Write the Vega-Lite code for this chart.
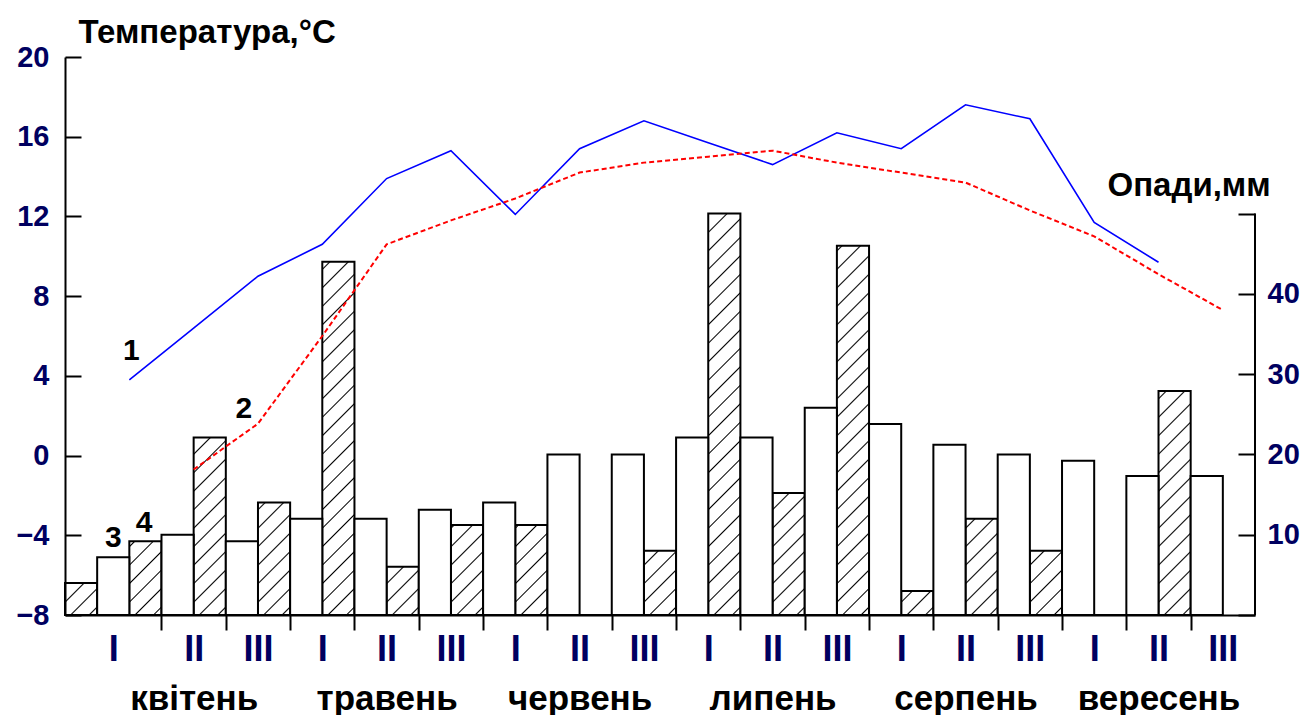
{
  "$schema": "https://vega.github.io/schema/vega-lite/v6.json",
  "width": 1190,
  "height": 558,
  "autosize": {"type": "none"},
  "padding": {"left": 65, "top": 57, "right": 50, "bottom": 100},
  "background": "white",
  "config": {"view": {"stroke": null}, "axis": {"grid": false}, "font": "Liberation Sans", "scale": {"continuousPadding": 0}},
  "data": {"values": [
    {"n": 0, "month": "березень", "dekad": "III", "p3": null, "p4": 4.0, "t1": null, "t2": null},
    {"n": 1, "month": "квітень", "dekad": "I", "p3": 7.2, "p4": 9.2, "t1": 3.8, "t2": null},
    {"n": 2, "month": "квітень", "dekad": "II", "p3": 10.0, "p4": 22.1, "t1": 6.4, "t2": -0.7},
    {"n": 3, "month": "квітень", "dekad": "III", "p3": 9.2, "p4": 14.0, "t1": 9.0, "t2": 1.6},
    {"n": 4, "month": "травень", "dekad": "I", "p3": 12.0, "p4": 44.0, "t1": 10.6, "t2": 6.0},
    {"n": 5, "month": "травень", "dekad": "II", "p3": 12.0, "p4": 6.0, "t1": 13.9, "t2": 10.6},
    {"n": 6, "month": "травень", "dekad": "III", "p3": 13.1, "p4": 11.2, "t1": 15.3, "t2": 11.8},
    {"n": 7, "month": "червень", "dekad": "I", "p3": 14.0, "p4": 11.2, "t1": 12.1, "t2": 12.9},
    {"n": 8, "month": "червень", "dekad": "II", "p3": 20.0, "p4": 0, "t1": 15.4, "t2": 14.2},
    {"n": 9, "month": "червень", "dekad": "III", "p3": 20.0, "p4": 8.0, "t1": 16.8, "t2": 14.7},
    {"n": 10, "month": "липень", "dekad": "I", "p3": 22.1, "p4": 50.0, "t1": 15.7, "t2": 15.0},
    {"n": 11, "month": "липень", "dekad": "II", "p3": 22.1, "p4": 15.2, "t1": 14.6, "t2": 15.3},
    {"n": 12, "month": "липень", "dekad": "III", "p3": 25.8, "p4": 46.0, "t1": 16.2, "t2": 14.7},
    {"n": 13, "month": "серпень", "dekad": "I", "p3": 23.8, "p4": 3.0, "t1": 15.4, "t2": 14.2},
    {"n": 14, "month": "серпень", "dekad": "II", "p3": 21.2, "p4": 12.0, "t1": 17.6, "t2": 13.7},
    {"n": 15, "month": "серпень", "dekad": "III", "p3": 20.0, "p4": 8.0, "t1": 16.9, "t2": 12.3},
    {"n": 16, "month": "вересень", "dekad": "I", "p3": 19.2, "p4": 0, "t1": 11.7, "t2": 11.0},
    {"n": 17, "month": "вересень", "dekad": "II", "p3": 17.3, "p4": 27.9, "t1": 9.7, "t2": 9.1},
    {"n": 18, "month": "вересень", "dekad": "III", "p3": 17.3, "p4": null, "t1": null, "t2": 7.3}
  ]},
  "resolve": {"scale": {"y": "independent"}, "axis": {"x": "independent", "y": "independent"}},
  "layer": [
    {
      "transform": [{"filter": "isValid(datum.p4)"}],
      "mark": {"type": "bar", "width": 32.16, "xOffset": 16.08, "strokeWidth": 0,
        "fill": {"gradient": "linear", "x1": 0, "y1": 0, "x2": 0.0611, "y2": 1.06, "stops": [
          {"offset": 0, "color": "white"},
          {"offset": 0.0127, "color": "white"}, {"offset": 0.0152, "color": "black"}, {"offset": 0.0177, "color": "white"},
          {"offset": 0.0438, "color": "white"}, {"offset": 0.0463, "color": "black"}, {"offset": 0.0488, "color": "white"},
          {"offset": 0.0750, "color": "white"}, {"offset": 0.0775, "color": "black"}, {"offset": 0.0800, "color": "white"},
          {"offset": 0.1061, "color": "white"}, {"offset": 0.1086, "color": "black"}, {"offset": 0.1111, "color": "white"},
          {"offset": 0.1373, "color": "white"}, {"offset": 0.1398, "color": "black"}, {"offset": 0.1423, "color": "white"},
          {"offset": 0.1684, "color": "white"}, {"offset": 0.1709, "color": "black"}, {"offset": 0.1734, "color": "white"},
          {"offset": 0.1996, "color": "white"}, {"offset": 0.2021, "color": "black"}, {"offset": 0.2046, "color": "white"},
          {"offset": 0.2307, "color": "white"}, {"offset": 0.2332, "color": "black"}, {"offset": 0.2357, "color": "white"},
          {"offset": 0.2619, "color": "white"}, {"offset": 0.2644, "color": "black"}, {"offset": 0.2669, "color": "white"},
          {"offset": 0.2931, "color": "white"}, {"offset": 0.2956, "color": "black"}, {"offset": 0.2981, "color": "white"},
          {"offset": 0.3242, "color": "white"}, {"offset": 0.3267, "color": "black"}, {"offset": 0.3292, "color": "white"},
          {"offset": 0.3554, "color": "white"}, {"offset": 0.3579, "color": "black"}, {"offset": 0.3604, "color": "white"},
          {"offset": 0.3865, "color": "white"}, {"offset": 0.3890, "color": "black"}, {"offset": 0.3915, "color": "white"},
          {"offset": 0.4177, "color": "white"}, {"offset": 0.4202, "color": "black"}, {"offset": 0.4227, "color": "white"},
          {"offset": 0.4488, "color": "white"}, {"offset": 0.4513, "color": "black"}, {"offset": 0.4538, "color": "white"},
          {"offset": 0.4800, "color": "white"}, {"offset": 0.4825, "color": "black"}, {"offset": 0.4850, "color": "white"},
          {"offset": 0.5112, "color": "white"}, {"offset": 0.5137, "color": "black"}, {"offset": 0.5162, "color": "white"},
          {"offset": 0.5423, "color": "white"}, {"offset": 0.5448, "color": "black"}, {"offset": 0.5473, "color": "white"},
          {"offset": 0.5735, "color": "white"}, {"offset": 0.5760, "color": "black"}, {"offset": 0.5785, "color": "white"},
          {"offset": 0.6046, "color": "white"}, {"offset": 0.6071, "color": "black"}, {"offset": 0.6096, "color": "white"},
          {"offset": 0.6358, "color": "white"}, {"offset": 0.6383, "color": "black"}, {"offset": 0.6408, "color": "white"},
          {"offset": 0.6669, "color": "white"}, {"offset": 0.6694, "color": "black"}, {"offset": 0.6719, "color": "white"},
          {"offset": 0.6981, "color": "white"}, {"offset": 0.7006, "color": "black"}, {"offset": 0.7031, "color": "white"},
          {"offset": 0.7292, "color": "white"}, {"offset": 0.7317, "color": "black"}, {"offset": 0.7342, "color": "white"},
          {"offset": 0.7604, "color": "white"}, {"offset": 0.7629, "color": "black"}, {"offset": 0.7654, "color": "white"},
          {"offset": 0.7916, "color": "white"}, {"offset": 0.7941, "color": "black"}, {"offset": 0.7966, "color": "white"},
          {"offset": 0.8227, "color": "white"}, {"offset": 0.8252, "color": "black"}, {"offset": 0.8277, "color": "white"},
          {"offset": 0.8539, "color": "white"}, {"offset": 0.8564, "color": "black"}, {"offset": 0.8589, "color": "white"},
          {"offset": 0.8850, "color": "white"}, {"offset": 0.8875, "color": "black"}, {"offset": 0.8900, "color": "white"},
          {"offset": 0.9162, "color": "white"}, {"offset": 0.9187, "color": "black"}, {"offset": 0.9212, "color": "white"},
          {"offset": 0.9473, "color": "white"}, {"offset": 0.9498, "color": "black"}, {"offset": 0.9523, "color": "white"},
          {"offset": 0.9785, "color": "white"}, {"offset": 0.9810, "color": "black"}, {"offset": 0.9835, "color": "white"},
          {"offset": 1, "color": "white"}
        ]}},
      "encoding": {
        "x": {"field": "n", "type": "quantitative", "scale": {"domain": [0, 18.5], "nice": false, "zero": false, "padding": 0},
          "axis": {"orient": "bottom", "values": [1.5, 2.5, 3.5, 4.5, 5.5, 6.5, 7.5, 8.5, 9.5, 10.5, 11.5, 12.5, 13.5, 14.5, 15.5, 16.5, 17.5],
            "labels": false, "ticks": true, "tickSize": 15, "tickWidth": 2, "tickColor": "black",
            "domain": true, "domainWidth": 2, "domainColor": "black", "title": null, "grid": false, "zindex": 1}},
        "y": {"datum": 0, "type": "quantitative", "scale": {"domain": [0, 69.5], "nice": false, "zero": false}, "axis": null},
        "y2": {"datum": 69.5}
      }
    },
    {
      "transform": [{"filter": "isValid(datum.p4)"}],
      "mark": {"type": "bar", "width": 34.5, "xOffset": 16.08, "fill": "white", "strokeWidth": 0},
      "encoding": {
        "x": {"field": "n", "type": "quantitative", "scale": {"domain": [0, 18.5], "nice": false, "zero": false, "padding": 0}, "axis": null},
        "y": {"field": "p4", "type": "quantitative", "scale": {"domain": [0, 69.5], "nice": false, "zero": false}, "axis": null},
        "y2": {"datum": 71}
      }
    },
    {
      "transform": [{"filter": "isValid(datum.p4)"}],
      "mark": {"type": "bar", "width": 32.16, "xOffset": 16.08, "fill": "white", "fillOpacity": 0, "stroke": "black", "strokeWidth": 2},
      "encoding": {
        "x": {"field": "n", "type": "quantitative", "scale": {"domain": [0, 18.5], "nice": false, "zero": false, "padding": 0}, "axis": null},
        "y": {"field": "p4", "type": "quantitative", "scale": {"domain": [0, 69.5], "nice": false, "zero": false}, "axis": null},
        "y2": {"datum": 0}
      }
    },
    {
      "mark": {"type": "bar", "width": 32.16, "xOffset": -16.08, "fill": "white", "stroke": "black", "strokeWidth": 2},
      "encoding": {
        "x": {"field": "n", "type": "quantitative", "scale": {"domain": [0, 18.5], "nice": false, "zero": false, "padding": 0}, "axis": null},
        "y": {"field": "p3", "type": "quantitative", "scale": {"domain": [0, 69.5], "nice": false, "zero": false},
          "axis": {"orient": "right", "values": [0, 10, 20, 30, 40, 50],
            "labelExpr": "datum.value > 0 && datum.value < 50 ? datum.label : ''",
            "tickSize": -17, "tickWidth": 2, "tickColor": "black", "domain": false,
            "labelPadding": 29, "labelFontSize": 29, "labelFontWeight": "bold", "labelColor": "#000060",
            "labelBaseline": "middle", "labelOverlap": false,
            "title": "Опади,мм", "titleAngle": 0, "titleAlign": "left", "titleBaseline": "alphabetic",
            "titleX": -148, "titleY": 138, "titleFontSize": 33, "titleFontWeight": "bold", "titleColor": "black",
            "grid": false, "zindex": 1}},
        "y2": {"datum": 0}
      }
    },
    {
      "data": {"values": [{}]},
      "mark": {"type": "rule", "stroke": "black", "strokeWidth": 2},
      "encoding": {
        "x": {"datum": 18.5, "type": "quantitative", "scale": {"domain": [0, 18.5], "nice": false, "zero": false, "padding": 0}, "axis": null},
        "y": {"datum": 0, "type": "quantitative", "scale": {"domain": [0, 69.5], "nice": false, "zero": false}, "axis": null},
        "y2": {"datum": 50}
      }
    },
    {
      "mark": {"type": "line", "stroke": "#0000ff", "strokeWidth": 1.6},
      "encoding": {
        "x": {"field": "n", "type": "quantitative", "scale": {"domain": [0, 18.5], "nice": false, "zero": false, "padding": 0},
          "axis": {"orient": "bottom", "values": [0.75, 2, 3, 4, 5, 6, 7, 8, 9, 10, 11, 12, 13, 14, 15, 16, 17, 18],
            "ticks": false, "domain": false, "labelExpr": "datum.value < 1.5 ? 'I' : ['III','I','II'][datum.value % 3]",
            "labelFont": "Liberation Sans Narrow, Liberation Sans", "labelFontSize": 36, "labelFontWeight": "bold",
            "labelColor": "#000060", "labelBaseline": "alphabetic", "labelPadding": 45,
            "labelOverlap": false, "labelFlush": false, "labelAlign": "center", "title": null, "grid": false}},
        "y": {"field": "t1", "type": "quantitative", "scale": {"domain": [-8, 20], "nice": false, "zero": false},
          "axis": {"orient": "left", "values": [-8, -4, 0, 4, 8, 12, 16, 20],
            "tickSize": -16, "tickWidth": 2, "tickColor": "black",
            "domain": true, "domainWidth": 2, "domainColor": "black",
            "labelPadding": 32, "labelFontSize": 29, "labelFontWeight": "bold", "labelColor": "#000060",
            "labelBaseline": "middle", "labelOverlap": false,
            "title": "Температура,°С", "titleAngle": 0, "titleAlign": "left", "titleBaseline": "alphabetic",
            "titleX": 13, "titleY": -15, "titleFontSize": 33, "titleFontWeight": "bold", "titleColor": "black",
            "grid": false, "zindex": 1}}
      }
    },
    {
      "mark": {"type": "line", "stroke": "#ff0000", "strokeWidth": 2, "strokeDash": [5, 3]},
      "encoding": {
        "x": {"field": "n", "type": "quantitative", "scale": {"domain": [0, 18.5], "nice": false, "zero": false, "padding": 0}, "axis": null},
        "y": {"field": "t2", "type": "quantitative", "scale": {"domain": [-8, 20], "nice": false, "zero": false}, "axis": null}
      }
    },
    {
      "data": {"values": [{"label": "1"}]},
      "mark": {"type": "text", "fontSize": 30, "fontWeight": "bold", "color": "black", "align": "center", "baseline": "alphabetic"},
      "encoding": {
        "x": {"datum": 1.03, "type": "quantitative", "scale": {"domain": [0, 18.5], "nice": false, "zero": false, "padding": 0}, "axis": null},
        "y": {"datum": 4.8, "type": "quantitative", "scale": {"domain": [-8, 20], "nice": false, "zero": false}, "axis": null},
        "text": {"field": "label"}
      }
    },
    {
      "data": {"values": [{"label": "2"}]},
      "mark": {"type": "text", "fontSize": 30, "fontWeight": "bold", "color": "black", "align": "center", "baseline": "alphabetic"},
      "encoding": {
        "x": {"datum": 2.78, "type": "quantitative", "scale": {"domain": [0, 18.5], "nice": false, "zero": false, "padding": 0}, "axis": null},
        "y": {"datum": 1.9, "type": "quantitative", "scale": {"domain": [-8, 20], "nice": false, "zero": false}, "axis": null},
        "text": {"field": "label"}
      }
    },
    {
      "data": {"values": [{"label": "3"}]},
      "mark": {"type": "text", "fontSize": 30, "fontWeight": "bold", "color": "black", "align": "center", "baseline": "alphabetic"},
      "encoding": {
        "x": {"datum": 0.75, "type": "quantitative", "scale": {"domain": [0, 18.5], "nice": false, "zero": false, "padding": 0}, "axis": null},
        "y": {"datum": -4.6, "type": "quantitative", "scale": {"domain": [-8, 20], "nice": false, "zero": false}, "axis": null},
        "text": {"field": "label"}
      }
    },
    {
      "data": {"values": [{"label": "4"}]},
      "mark": {"type": "text", "fontSize": 30, "fontWeight": "bold", "color": "black", "align": "center", "baseline": "alphabetic"},
      "encoding": {
        "x": {"datum": 1.23, "type": "quantitative", "scale": {"domain": [0, 18.5], "nice": false, "zero": false, "padding": 0}, "axis": null},
        "y": {"datum": -3.85, "type": "quantitative", "scale": {"domain": [-8, 20], "nice": false, "zero": false}, "axis": null},
        "text": {"field": "label"}
      }
    },
    {
      "mark": {"type": "point", "opacity": 0},
      "encoding": {
        "x": {"field": "n", "type": "quantitative", "scale": {"domain": [0, 18.5], "nice": false, "zero": false, "padding": 0},
          "axis": {"orient": "bottom", "values": [2, 5, 8, 11, 14, 17], "ticks": false, "domain": false,
            "labelExpr": "['квітень','травень','червень','липень','серпень','вересень'][(datum.value - 2) / 3]",
            "labelFontSize": 35, "labelFontWeight": "bold", "labelColor": "black", "labelBaseline": "alphabetic",
            "labelPadding": 94, "labelOverlap": false, "labelFlush": false, "labelAlign": "center", "title": null, "grid": false}},
        "y": {"datum": 0, "type": "quantitative", "axis": null}
      }
    }
  ]
}
